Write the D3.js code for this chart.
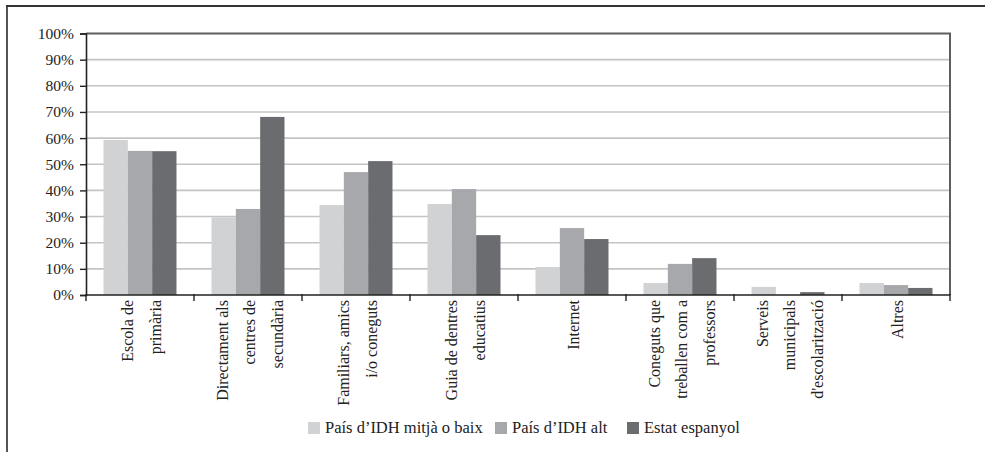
<!DOCTYPE html>
<html>
<head>
<meta charset="utf-8">
<script src="https://cdn.jsdelivr.net/npm/d3@7"></script>
<style>
  html, body { margin: 0; padding: 0; background: #fff; }
  svg { display: block; font-family: "Liberation Serif", "DejaVu Serif", serif; }
</style>
</head>
<body>
<svg id="chart" width="985" height="452"></svg>
<script>
// Categories (each entry is the wrapped lines of the axis label)
const categories = [
  ["Escola de", "primària"],
  ["Directament als", "centres de", "secundària"],
  ["Familiars, amics", "i/o coneguts"],
  ["Guia de dentres", "educatius"],
  ["Internet"],
  ["Coneguts que", "treballen com a", "professors"],
  ["Serveis", "municipals", "d'escolarització"],
  ["Altres"]
];
const seriesNames = ["País d’IDH mitjà o baix", "País d’IDH alt", "Estat espanyol"];
const idhBaix = [59.3, 29.7, 34.4, 34.8, 10.7, 4.6, 3.1, 4.6];
const idhAlt = [55.1, 32.9, 47.0, 40.5, 25.6, 11.9, 0, 3.8];
const estatEspanyol = [55.0, 68.1, 51.2, 22.9, 21.4, 14.1, 1.1, 2.7];
const yTicks = [0, 10, 20, 30, 40, 50, 60, 70, 80, 90, 100];
const colors = ["#d1d2d4", "#a7a8ab", "#6b6c70"];

const series = [idhBaix, idhAlt, estatEspanyol];
const svg = d3.select("#chart");

const plot = { left: 86, right: 950, top: 33.5, bottom: 295 };

const x = d3.scaleBand()
  .domain(d3.range(categories.length))
  .range([plot.left, plot.right])
  .paddingInner(0).paddingOuter(0);

const xInner = d3.scaleBand()
  .domain(d3.range(series.length))
  .range([0, x.bandwidth()])
  .paddingOuter(0.72).paddingInner(0);

const y = d3.scaleLinear().domain([0, 100]).range([plot.bottom, plot.top]);

// Outer frame (left and top edges)
svg.append("line").attr("x1", 7).attr("x2", 7).attr("y1", 5).attr("y2", 452)
  .attr("stroke", "#555").attr("stroke-width", 2);
svg.append("line").attr("x1", 6).attr("x2", 985).attr("y1", 6).attr("y2", 6)
  .attr("stroke", "#333").attr("stroke-width", 2);

// Horizontal gridlines
svg.append("g").selectAll("line")
  .data(yTicks.filter(d => d > 0 && d < 100))
  .join("line")
  .attr("x1", plot.left).attr("x2", plot.right)
  .attr("y1", d => y(d)).attr("y2", d => y(d))
  .attr("stroke", "#c4c4c4").attr("stroke-width", 1.6);

// Plot area border (top and right)
svg.append("path")
  .attr("d", `M${plot.left},${y(100)}H${plot.right}V${plot.bottom}`)
  .attr("fill", "none").attr("stroke", "#5f5f5f").attr("stroke-width", 2);

// Bars
const groups = svg.append("g").selectAll("g")
  .data(categories.map((c, i) => i))
  .join("g")
  .attr("transform", i => `translate(${x(i)},0)`);

groups.selectAll("rect")
  .data(i => series.map((s, k) => ({ k, v: s[i] })))
  .join("rect")
  .attr("x", d => xInner(d.k))
  .attr("width", xInner.bandwidth())
  .attr("y", d => y(d.v))
  .attr("height", d => y(0) - y(d.v))
  .attr("fill", d => colors[d.k]);

// Y axis
const yAxis = d3.axisLeft(y).tickValues(yTicks).tickFormat(d => d + "%").tickSize(6).tickPadding(6);
const gy = svg.append("g").attr("transform", `translate(${plot.left},0)`).call(yAxis);
gy.select(".domain").attr("stroke", "#222").attr("stroke-width", 1.6);
gy.selectAll(".tick line").attr("stroke", "#222").attr("stroke-width", 1.4);
gy.selectAll(".tick text")
  .attr("font-family", "Liberation Serif, DejaVu Serif, serif")
  .attr("font-size", 15.5).attr("fill", "#222");

// X axis (ticks at category boundaries)
svg.append("line")
  .attr("x1", plot.left).attr("x2", plot.right)
  .attr("y1", plot.bottom).attr("y2", plot.bottom)
  .attr("stroke", "#222").attr("stroke-width", 1.6);
svg.append("g").selectAll("line")
  .data(d3.range(categories.length + 1))
  .join("line")
  .attr("x1", i => plot.left + i * x.step()).attr("x2", i => plot.left + i * x.step())
  .attr("y1", plot.bottom - 1).attr("y2", plot.bottom + 6)
  .attr("stroke", "#222").attr("stroke-width", 1.4);

// Rotated, wrapped category labels
const lineGap = 27.5;
const labels = svg.append("g").selectAll("g")
  .data(categories.map((c, i) => ({ c, i })))
  .join("g")
  .attr("transform", d => `translate(${x(d.i) + x.bandwidth() / 2 + 2},${plot.bottom + 5}) rotate(-90)`);

labels.selectAll("text")
  .data(d => d.c.map((t, j) => ({ t, j, n: d.c.length })))
  .join("text")
  .attr("x", 0)
  .attr("y", d => (d.j - (d.n - 1) / 2) * lineGap + 5)
  .attr("text-anchor", "end")
  .attr("font-size", 16)
  .attr("fill", "#222")
  .text(d => d.t);

// Legend
const legendItems = [
  { name: seriesNames[0], x: 308 },
  { name: seriesNames[1], x: 495 },
  { name: seriesNames[2], x: 627 }
];
const legend = svg.append("g").selectAll("g")
  .data(legendItems)
  .join("g")
  .attr("transform", d => `translate(${d.x},422)`);
legend.append("rect")
  .attr("width", 12).attr("height", 12)
  .attr("fill", (d, i) => colors[i]);
legend.append("text")
  .attr("x", 17).attr("y", 11)
  .attr("font-size", 16.5)
  .attr("fill", "#222")
  .text(d => d.name);
</script>
</body>
</html>
